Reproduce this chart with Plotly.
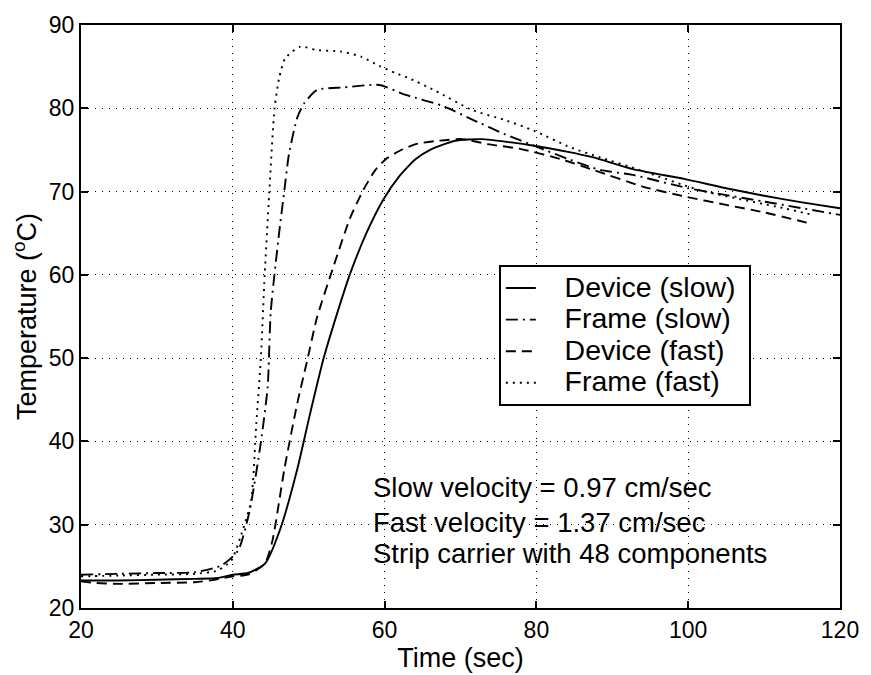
import plotly.graph_objects as go

# ---- data ----
device_slow_t = [20, 25, 30, 35, 38, 40, 42, 44.3, 46.3, 48.5, 50.2, 52, 54.1, 55.4, 57.6, 59.8, 61.9,
                 64.1, 66, 69.3, 72.8, 76.7, 79.7, 84, 87.5, 92.7, 99.6, 105, 110, 115, 120]
device_slow_T = [23.3, 23.3, 23.4, 23.5, 23.6, 24.0, 24.2, 25.4, 29.6, 36.7, 43.4, 50.1, 56.4, 60, 65, 69,
                 71.8, 73.9, 75.0, 76.1, 76.3, 75.9, 75.5, 74.8, 74.1, 72.7, 71.5, 70.4, 69.5, 68.7, 68.0]

frame_slow_t = [20, 25, 30, 35, 38.5, 40.7, 42.2, 43.7, 44.6, 45, 46.1, 46.8, 47.4, 48.5, 49.4, 51.1,
                54.6, 59.3, 62.8, 67.6, 71.9, 75.8, 80, 84.5, 88.4, 92.7, 100, 110, 120]
frame_slow_T = [24.0, 24.1, 24.2, 24.3, 25.1, 26.9, 31.6, 39.9, 46.6, 55.6, 65, 70.2, 74.5, 78.9, 80.6,
                82.2, 82.5, 82.8, 81.6, 80.3, 78.5, 76.9, 75.4, 73.8, 72.6, 72.0, 70.4, 68.8, 67.2]

device_fast_t = [20, 22, 25, 30, 35, 37.7, 40, 42, 44.2, 45.2, 46.8, 48.5, 49.8, 51.1, 53.3, 55.4, 57.2,
                 58.8, 60.3, 62.0, 64.1, 67.1, 70.2, 73.6, 78, 83.2, 87.5, 94, 99.6, 105, 110, 116.4]
device_fast_T = [23.2, 23.0, 22.9, 23.0, 23.1, 23.4, 23.8, 24.0, 25.3, 28, 36.7, 44.6, 49.7, 54.9, 61.1,
                 66.7, 70.2, 72.6, 74.0, 74.9, 75.7, 76.1, 76.3, 75.7, 75.1, 73.9, 72.6, 70.6, 69.4, 68.4,
                 67.5, 66.1]

frame_fast_t = [20, 25, 30, 35, 38, 39.8, 41, 42.4, 43.1, 43.7, 44.2, 44.8, 45.5, 46.1, 46.9, 48.9, 51,
                54.3, 56.9, 59.3, 61.5, 63, 66.7, 71.5, 75.8, 79.7, 84.5, 88.4, 93.6, 101.4, 112.6, 116.4]
frame_fast_T = [23.8, 23.9, 24.0, 24.1, 24.5, 25.7, 28.5, 32.8, 42.2, 50.1, 60, 69.8, 80, 83.6, 86, 87.4,
                87.0, 86.8, 86.2, 85.1, 84.2, 83.7, 82.1, 79.8, 78.6, 77.3, 75.3, 74.1, 72.6, 70.2, 68.0, 67.2]

x_ticks = [20, 40, 60, 80, 100, 120]
y_ticks = [20, 30, 40, 50, 60, 70, 80, 90]

notes = ["Slow velocity = 0.97 cm/sec",
         "Fast velocity = 1.37 cm/sec",
         "Strip carrier with 48 components"]

FONT = "Liberation Sans, Arial, Helvetica, sans-serif"

fig = go.Figure()
series = [
    ("Device (slow)", device_slow_t, device_slow_T, "solid"),
    ("Frame (slow)", frame_slow_t, frame_slow_T, "12px,5px,2px,5px"),
    ("Device (fast)", device_fast_t, device_fast_T, "10px,6px"),
    ("Frame (fast)", frame_fast_t, frame_fast_T, "2px,5px"),
]
for name, t, T, dash in series:
    label = '<span style="font-size:28.5px">&nbsp;&nbsp;&nbsp;' + name + '&nbsp;</span>'
    fig.add_trace(go.Scatter(x=t, y=T, mode="lines", name=label,
                             line=dict(color="black", width=1.9, dash=dash, shape="spline", smoothing=0.6)))

for i, txt in enumerate(notes):
    fig.add_annotation(x=0.382, y=[0.207, 0.147, 0.094][i], xref="paper", yref="paper",
                       text=txt, showarrow=False, xanchor="left", yanchor="middle",
                       font=dict(family=FONT, size=27.5, color="black"))

axis_common = dict(showline=True, linecolor="black", linewidth=2, mirror="ticks",
                   ticks="inside", ticklen=7, tickwidth=1.5, tickcolor="black",
                   showgrid=True, gridcolor="black", gridwidth=1, griddash="1px,6px",
                   zeroline=False, tickfont=dict(family=FONT, size=23, color="black"))

fig.update_layout(
    width=871, height=675,
    margin=dict(l=81, r=21, t=16, b=67),
    paper_bgcolor="white", plot_bgcolor="white",
    font=dict(family=FONT, color="black"),
    showlegend=True,
    legend=dict(x=0.5505, y=0.588, xanchor="left", yanchor="top",
                bordercolor="black", borderwidth=2, bgcolor="white",
                font=dict(family=FONT, size=22, color="black"),
                tracegroupgap=0, itemwidth=30),
    xaxis=dict(range=[20, 120], tickvals=x_ticks, ticktext=[str(v) for v in x_ticks],
               title=dict(text="Time (sec)", font=dict(family=FONT, size=27), standoff=2),
               **axis_common),
    yaxis=dict(range=[20, 90], tickvals=y_ticks, ticktext=[str(v) for v in y_ticks],
               title=dict(text="Temperature (<sup>o</sup>C)", font=dict(family=FONT, size=27), standoff=4),
               **axis_common),
)

fig.write_html("out.html")
